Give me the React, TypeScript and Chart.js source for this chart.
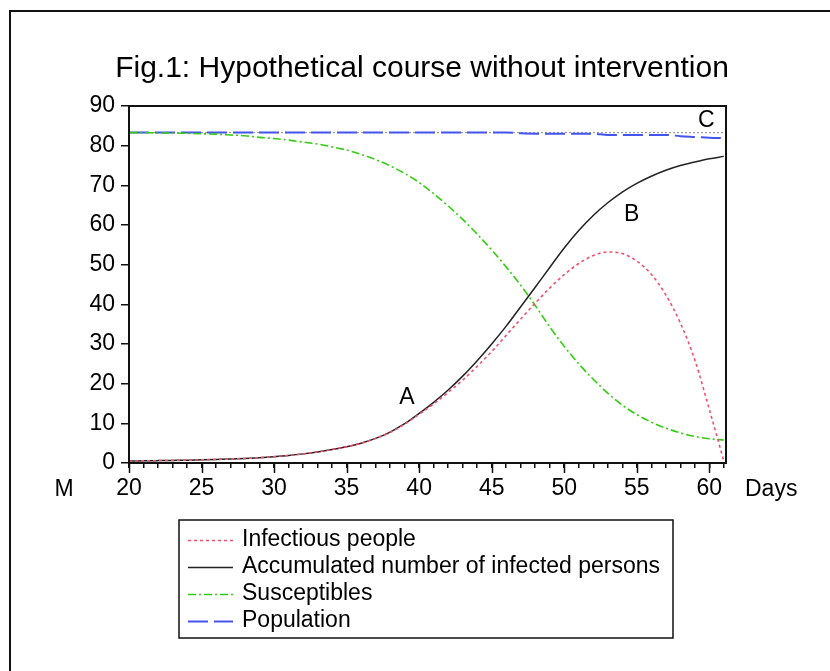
import React, { useEffect, useRef } from "react";
import { Chart, registerables } from "chart.js";

Chart.register(...registerables);

const FONT = "'Liberation Sans', Arial, Helvetica, sans-serif";

const titleText = "Fig.1: Hypothetical course without intervention";
const xUnitLabel = "Days";
const yUnitLabel = "M";

const days = [20, 21, 22, 23, 24, 25, 26, 27, 28, 29, 30, 31, 32, 33, 34, 35, 36, 37, 38, 39, 40, 41, 42, 43, 44, 45, 46, 47, 48, 49, 50, 51, 52, 53, 54, 55, 56, 57, 58, 59, 60, 61];

const infectious = [0.5, 0.55, 0.6, 0.65, 0.7, 0.8, 0.9, 1.0, 1.15, 1.35, 1.6, 1.9, 2.3, 2.8, 3.4, 4.1, 5.0, 6.2, 7.7, 9.8, 12.3, 14.9, 17.8, 20.9, 24.4, 28.1, 32.2, 36.3, 40.3, 44.1, 47.5, 50.3, 52.3, 53.2, 52.8, 50.9, 47.6, 42.4, 35.3, 26.0, 13.5, 0.5];

const accumulated = [0.5, 0.55, 0.6, 0.65, 0.7, 0.8, 0.9, 1.0, 1.15, 1.35, 1.6, 1.9, 2.3, 2.8, 3.4, 4.1, 5.0, 6.2, 7.8, 9.9, 12.5, 15.3, 18.4, 21.9, 25.8, 30.0, 34.5, 39.4, 44.3, 49.3, 54.2, 58.6, 62.4, 65.6, 68.3, 70.5, 72.3, 73.8, 75.0, 75.9, 76.7, 77.3];

const susceptibles = [83.3, 83.3, 83.2, 83.2, 83.1, 83.0, 82.9, 82.7, 82.5, 82.1, 81.8, 81.4, 80.9, 80.4, 79.7, 78.9, 77.8, 76.5, 74.9, 73.0, 70.7, 67.9, 64.8, 61.4, 57.7, 53.7, 49.4, 44.8, 39.7, 34.3, 29.4, 25.0, 21.1, 17.6, 14.6, 12.2, 10.3, 8.8, 7.6, 6.7, 6.1, 5.8];

const population = [83.3, 83.3, 83.3, 83.3, 83.3, 83.3, 83.3, 83.3, 83.3, 83.3, 83.3, 83.3, 83.3, 83.3, 83.3, 83.3, 83.3, 83.3, 83.3, 83.3, 83.3, 83.3, 83.3, 83.3, 83.3, 83.3, 83.3, 83.1, 83.0, 83.0, 83.0, 83.0, 83.0, 82.7, 82.7, 82.7, 82.7, 82.7, 82.4, 82.2, 82.0, 81.9];

const referenceDays = [20, 61.15];
const referenceLevel = [83.3, 83.3];

const xTicks = [20, 21, 22, 23, 24, 25, 26, 27, 28, 29, 30, 31, 32, 33, 34, 35, 36, 37, 38, 39, 40, 41, 42, 43, 44, 45, 46, 47, 48, 49, 50, 51, 52, 53, 54, 55, 56, 57, 58, 59, 60, 61];
const xMajorTicks = [20, 25, 30, 35, 40, 45, 50, 55, 60];

const annotationLabels = ["A", "B", "C"];
const annotationX = [39.15, 54.65, 59.8];
const annotationY = [16.4, 62.5, 86.3];

const seriesLabels = ["Infectious people", "Accumulated number of infected persons", "Susceptibles", "Population"];

const pts = (xs: number[], ys: number[]) => xs.map((x, i) => ({ x, y: ys[i] }));

const decorPlugin = {
  id: "decor",
  beforeDraw(chart: any) {
    const { ctx, width, height } = chart;
    ctx.save();
    ctx.fillStyle = "#ffffff";
    ctx.fillRect(0, 0, width, height);
    ctx.restore();
  },
  afterDraw(chart: any) {
    const { ctx, chartArea: a, scales } = chart;
    const xs = scales.x;
    const ys = scales.y;
    ctx.save();

    // outer figure frame
    ctx.strokeStyle = "#111";
    ctx.lineWidth = 2;
    ctx.strokeRect(10, 11, 1000, 1000);

    // plot frame
    ctx.lineWidth = 2;
    ctx.strokeRect(a.left, a.top, a.right - a.left, a.bottom - a.top);

    // major x ticks (longer)
    ctx.lineWidth = 1.5;
    ctx.beginPath();
    xMajorTicks.forEach((v) => {
      const px = Math.round(xs.getPixelForValue(v)) + 0.5;
      ctx.moveTo(px, a.bottom);
      ctx.lineTo(px, a.bottom + 10);
    });
    ctx.stroke();

    // title
    ctx.fillStyle = "#000";
    ctx.font = `30px ${FONT}`;
    ctx.textAlign = "center";
    ctx.textBaseline = "middle";
    ctx.fillText(titleText, 422, 69);

    // unit labels
    ctx.font = `23px ${FONT}`;
    ctx.textAlign = "center";
    ctx.fillText(yUnitLabel, 64, 490);
    ctx.textAlign = "left";
    ctx.fillText(xUnitLabel, 745, 490);

    // annotations
    ctx.textAlign = "center";
    annotationLabels.forEach((t, i) => {
      ctx.fillText(t, xs.getPixelForValue(annotationX[i]), ys.getPixelForValue(annotationY[i]));
    });

    // legend
    const lx = 179, ly = 520, lw = 494, lh = 118;
    ctx.lineWidth = 1.5;
    ctx.strokeStyle = "#111";
    ctx.strokeRect(lx, ly, lw, lh);
    const rowY = [540, 566.5, 593.5, 621];
    chart.data.datasets.slice(0, 4).forEach((ds: any, i: number) => {
      const y = Math.round(rowY[i]) + 0.5;
      ctx.save();
      ctx.strokeStyle = ds.borderColor;
      ctx.lineWidth = ds.borderWidth;
      ctx.setLineDash(ds.borderDash || []);
      ctx.beginPath();
      ctx.moveTo(188, y);
      ctx.lineTo(233, y);
      ctx.stroke();
      ctx.restore();
      ctx.fillStyle = "#000";
      ctx.textAlign = "left";
      ctx.textBaseline = "middle";
      ctx.font = `23px ${FONT}`;
      ctx.fillText(ds.label, 242, rowY[i]);
    });

    ctx.restore();
  },
};

export default function App() {
  const canvasRef = useRef<HTMLCanvasElement | null>(null);

  useEffect(() => {
    document.body.style.margin = "0";
    const canvas = canvasRef.current;
    if (!canvas) return;
    const chart = new Chart(canvas, {
      type: "line",
      data: {
        datasets: [
          {
            label: seriesLabels[0],
            data: pts(days, infectious),
            borderColor: "#f0506e",
            borderWidth: 1.6,
            borderDash: [3, 3],
            pointRadius: 0,
            cubicInterpolationMode: "monotone",
            fill: false,
            order: 1,
          },
          {
            label: seriesLabels[1],
            data: pts(days, accumulated),
            borderColor: "#222222",
            borderWidth: 1.5,
            borderDash: [],
            pointRadius: 0,
            cubicInterpolationMode: "monotone",
            fill: false,
            order: 2,
          },
          {
            label: seriesLabels[2],
            data: pts(days, susceptibles),
            borderColor: "#33cc11",
            borderWidth: 1.6,
            borderDash: [8, 3, 2, 3],
            pointRadius: 0,
            cubicInterpolationMode: "monotone",
            fill: false,
            order: 3,
          },
          {
            label: seriesLabels[3],
            data: pts(days, population),
            borderColor: "#4455ee",
            borderWidth: 2,
            borderDash: [20, 6],
            pointRadius: 0,
            cubicInterpolationMode: "monotone",
            fill: false,
            order: 4,
          },
          {
            label: "reference",
            data: pts(referenceDays, referenceLevel),
            borderColor: "#9a9a9a",
            borderWidth: 1.2,
            borderDash: [2, 2],
            pointRadius: 0,
            fill: false,
            order: 5,
          },
        ],
      },
      options: {
        responsive: false,
        animation: false,
        devicePixelRatio: 1,
        layout: { padding: { left: 0, right: 104, top: 106, bottom: 148 } },
        plugins: {
          legend: { display: false },
          title: { display: false },
          tooltip: { enabled: false },
        },
        scales: {
          x: {
            type: "linear",
            min: 20,
            max: 61.15,
            afterBuildTicks: (scale: any) => {
              scale.ticks = xTicks.map((v) => ({ value: v }));
            },
            afterFit: (scale: any) => {
              scale.height = 60;
            },
            grid: {
              display: true,
              drawOnChartArea: false,
              tickLength: 5,
              color: "#111",
              lineWidth: 1.5,
            },
            border: { display: true, color: "#111", width: 2 },
            ticks: {
              autoSkip: false,
              maxRotation: 0,
              padding: 7,
              color: "#000",
              font: { family: FONT, size: 23 },
              callback: (v: any) => (Number(v) % 5 === 0 ? String(v) : ""),
            },
          },
          y: {
            type: "linear",
            min: 0,
            max: 90,
            afterFit: (scale: any) => {
              scale.width = 129;
            },
            grid: {
              display: true,
              drawOnChartArea: false,
              tickLength: 8,
              color: "#111",
              lineWidth: 1.5,
            },
            border: { display: true, color: "#111", width: 2 },
            ticks: {
              stepSize: 10,
              padding: 6,
              color: "#000",
              font: { family: FONT, size: 23 },
            },
          },
        },
      },
      plugins: [decorPlugin],
    } as any);
    return () => chart.destroy();
  }, []);

  return (
    <div style={{ width: 830, height: 671 }}>
      <canvas ref={canvasRef} width={830} height={671} />
    </div>
  );
}
